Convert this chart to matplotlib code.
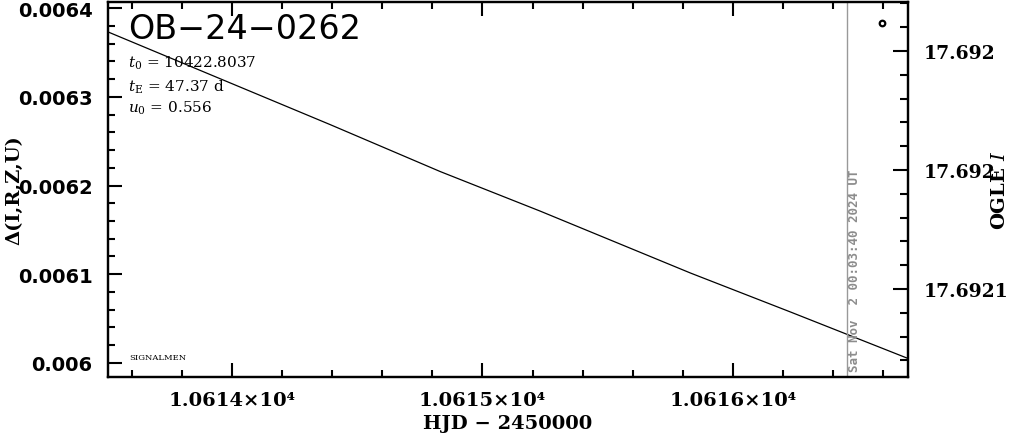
import matplotlib
matplotlib.use("Agg")
import matplotlib.pyplot as plt
from matplotlib.ticker import FixedLocator, MultipleLocator, FixedFormatter
import matplotlib.transforms as mtrans

# ---- data ----
model_hjd = [10613.504, 10613.992, 10614.392, 10614.832, 10615.232, 10615.832, 10616.232, 10616.704]
model_delta = [0.0063733, 0.0063158, 0.0062687, 0.0062157, 0.0061710, 0.0061012, 0.0060572, 0.0060045]
obs_hjd = [10616.596]
obs_delta = [0.0063833]
now_hjd = 10616.456
now_label = "Sat Nov  2 00:03:40 2024 UT"
event_name = "OB\u221224\u22120262"
param_lines = [r"$t_0$ = 10422.8037", r"$t_{\rm E}$ = 47.37 d", r"$u_0$ = 0.556"]
x_major = [10614, 10615, 10616]
x_labels = ["1.0614\u00d710\u2074", "1.0615\u00d710\u2074", "1.0616\u00d710\u2074"]
y_major = [0.0060, 0.0061, 0.0062, 0.0063, 0.0064]
y_labels = ["0.006", "0.0061", "0.0062", "0.0063", "0.0064"]
mag_major = [17.69195, 17.69200, 17.69205]
mag_labels = ["17.692", "17.692", "17.6921"]

plt.rcParams['mathtext.fontset'] = 'dejavuserif'

fig = plt.figure(figsize=(10.11, 4.35), dpi=100)
ax = fig.add_axes([0.1068, 0.131, 0.7913, 0.862])

ax.plot(model_hjd, model_delta, color='black', lw=0.9)
ax.plot(obs_hjd, obs_delta, 'o', mfc='none', mec='black', ms=4, mew=1.6, zorder=5)
ax.axvline(now_hjd, color='#999999', lw=1.0)

ax.set_xlim(10613.504, 10616.70)
ax.set_ylim(0.005984, 0.006407)

for s in ax.spines.values():
    s.set_linewidth(1.6)

ax.xaxis.set_major_locator(FixedLocator(x_major))
ax.xaxis.set_major_formatter(FixedFormatter(x_labels))
ax.xaxis.set_minor_locator(MultipleLocator(0.2))
ax.yaxis.set_major_locator(FixedLocator(y_major))
ax.yaxis.set_major_formatter(FixedFormatter(y_labels))
ax.yaxis.set_minor_locator(MultipleLocator(0.00002))

ax.tick_params(axis='both', which='both', direction='in', width=1.5)
ax.tick_params(axis='x', which='both', top=True, bottom=True)
ax.tick_params(axis='y', which='both', left=True, right=False)
ax.tick_params(which='major', length=10)
ax.tick_params(which='minor', length=5)
ax.tick_params(axis='x', pad=10)
ax.tick_params(axis='y', pad=11)
for lab in ax.get_yticklabels():
    lab.set_fontfamily('DejaVu Sans'); lab.set_fontweight('bold'); lab.set_fontsize(14)
for lab in ax.get_xticklabels():
    lab.set_fontfamily('DejaVu Serif'); lab.set_fontweight('bold'); lab.set_fontsize(14)

ax.set_xlabel("HJD \u2212 2450000", fontfamily='DejaVu Serif', fontweight='bold', fontsize=14, labelpad=4)
ax.set_ylabel("\u0394(I,R,Z,U)", fontfamily='DejaVu Serif', fontweight='bold', fontsize=14, labelpad=-4)

ax2 = ax.twinx()
ax2.set_ylim(17.692087, 17.6919294)
ax2.yaxis.set_major_locator(FixedLocator(mag_major))
ax2.yaxis.set_major_formatter(FixedFormatter(mag_labels))
ax2.yaxis.set_minor_locator(MultipleLocator(0.00001))
ax2.tick_params(axis='y', which='both', direction='in', width=1.5, pad=11)
ax2.tick_params(which='major', length=11)
ax2.tick_params(which='minor', length=6)
for lab in ax2.get_yticklabels():
    lab.set_fontfamily('DejaVu Serif'); lab.set_fontweight('bold'); lab.set_fontsize(13.5)
ax2.set_ylabel("OGLE $\\mathbf{\\mathit{I}}$", fontfamily='DejaVu Serif', fontweight='bold', fontsize=14, labelpad=-12)
for s in ax2.spines.values():
    s.set_linewidth(1.6)

ax.text(0.025, 0.904, event_name, transform=ax.transAxes, fontsize=24,
        fontfamily='DejaVu Sans', va='baseline', ha='left')
for i, line in enumerate(param_lines):
    ax.text(0.025, [0.827, 0.763, 0.709][i], line, transform=ax.transAxes,
            fontsize=11, fontfamily='DejaVu Serif', va='baseline', ha='left')
ax.text(0.027, 0.048, "SIGNALMEN", transform=ax.transAxes, fontsize=6,
        fontfamily='DejaVu Serif', va='baseline', ha='left')

trans = mtrans.blended_transform_factory(ax.transData, ax.transAxes)
ax.text(now_hjd + 0.005, 0.016, now_label, transform=trans, rotation=90,
        fontsize=9, fontfamily='DejaVu Sans Mono', fontweight='bold', color='#8c8c8c',
        ha='left', va='bottom')

fig.savefig("out.png", dpi=100)
